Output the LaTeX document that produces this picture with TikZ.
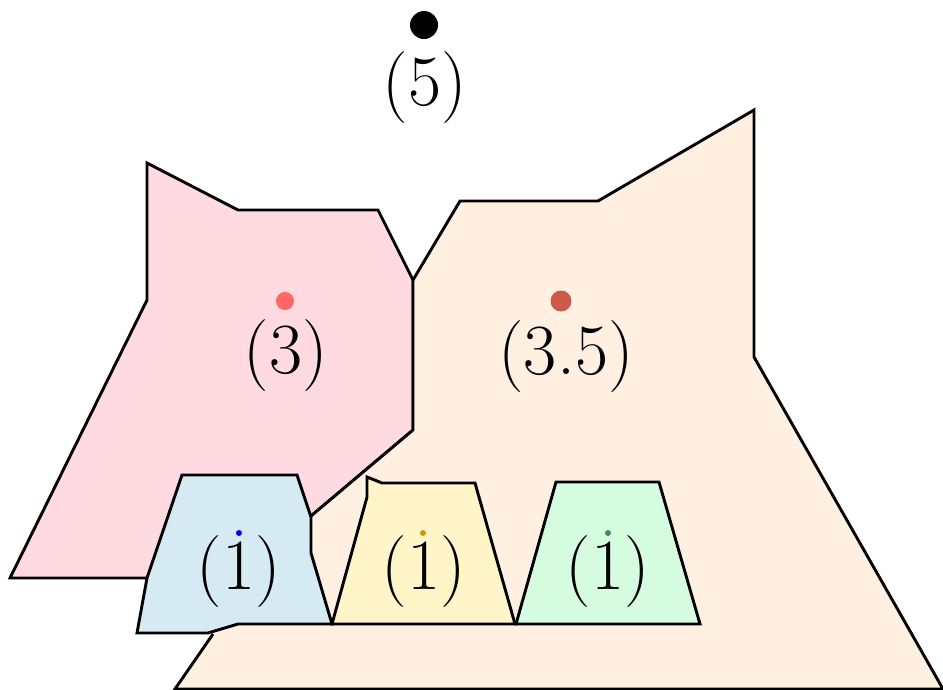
\documentclass[tikz,border=0pt]{standalone}
\usepackage{fontspec}
\definecolor{pinkf}{RGB}{255,218,224}
\definecolor{peachf}{RGB}{255,240,225}
\definecolor{bluef}{RGB}{213,234,242}
\definecolor{yellowf}{RGB}{255,245,200}
\definecolor{greenf}{RGB}{214,252,224}
\definecolor{pinkdot}{RGB}{255,102,102}
\definecolor{peachdot}{RGB}{205,90,70}
\definecolor{yellowdot}{RGB}{215,145,15}
\definecolor{greendot}{RGB}{60,140,110}
\begin{document}
\begin{tikzpicture}[x=1pt,y=-1pt,
  region/.style={draw=black,line width=2.9pt,line join=miter},
  lbl/.style={inner sep=0pt,font=\fontsize{72}{76}\selectfont}]
\useasboundingbox (0,0) rectangle (943,689);
% pink region
\fill[pinkf] (147,163) -- (238,210) -- (378,210) -- (413,280) -- (413,430) -- (300,525) -- (160,578) -- (10,578) -- (147,300) -- cycle;
\draw[region] (311,516) -- (413,430) -- (413,280) -- (378,210) -- (238,210) -- (147,163) -- (147,300) -- (10,578) -- (147,578);
% peach region
\fill[peachf] (413,280) -- (460,201) -- (598,201) -- (754,110) -- (754,357) -- (943,689) -- (175,689) -- (213,634) -- (311,516) -- (413,430) -- cycle;
\draw[region] (413,280) -- (460,201) -- (598,201) -- (754,110) -- (754,357) -- (943,689) -- (175,689) -- (213,634);
\draw[region] (413,280) -- (413,430) -- (311,516);
% blue region
\filldraw[region,fill=bluef] (182,475) -- (297,475) -- (311,517) -- (311,553) -- (332,624) -- (238,624) -- (208,633) -- (137,633) -- (147,578) -- cycle;
% yellow region
\filldraw[region,fill=yellowf] (367,477) -- (382,483) -- (475,483) -- (515,624) -- (332,624) -- (367,497) -- cycle;
% green region
\filldraw[region,fill=greenf] (556,482) -- (659,482) -- (700,624) -- (516,624) -- cycle;
% dots
\fill[black] (424,25) circle (14);
\fill[pinkdot] (285,301) circle (9);
\fill[peachdot] (561,301) circle (10.5);
\fill[blue] (239,533) circle (3);
\fill[yellowdot] (423,533) circle (3);
\fill[greendot] (608,533) circle (3);
% labels
\node[lbl] (l5) at (425,88) {(5)};
\node[lbl] (l3) at (286,356) {(3)};
\node[lbl] (l35) at (566,357) {(3.5)};
\node[lbl] (lb) at (239,572) {(1)};
\node[lbl] (ly) at (424,572) {(1)};
\node[lbl] (lg) at (608,572) {(1)};
\end{tikzpicture}
\end{document}
